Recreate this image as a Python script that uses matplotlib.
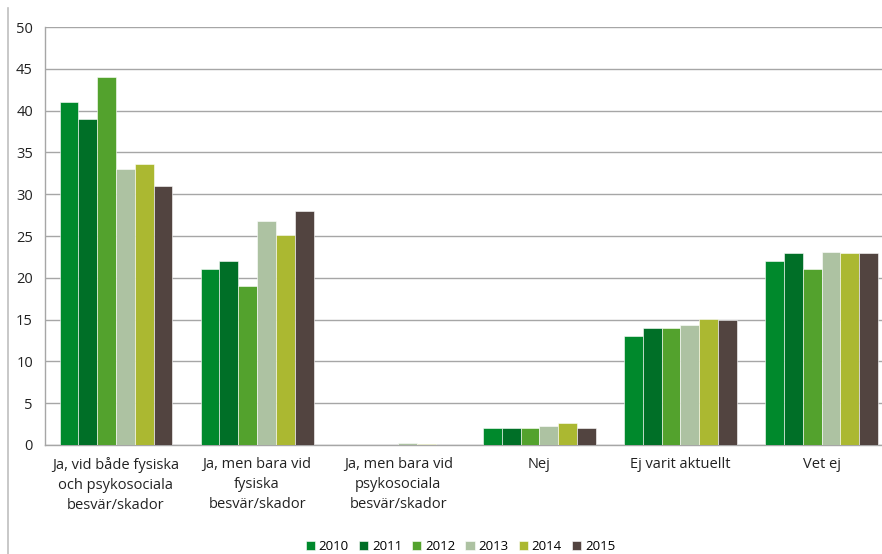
import numpy as np
import matplotlib.pyplot as plt
from matplotlib.lines import Line2D

# Kategorier och värden (procent)
categories = [
    "Ja, vid både fysiska\noch psykosociala\nbesvär/skador",
    "Ja, men bara vid\nfysiska\nbesvär/skador",
    "Ja, men bara vid\npsykosociala\nbesvär/skador",
    "Nej",
    "Ej varit aktuellt",
    "Vet ej",
]
years = ["2010", "2011", "2012", "2013", "2014", "2015"]
v2010 = [41, 21, 0, 2, 13, 22]
v2011 = [39, 22, 0, 2, 14, 23]
v2012 = [44, 19, 0, 2, 14, 21]
v2013 = [33, 26.8, 0.2, 2.2, 14.4, 23.1]
v2014 = [33.6, 25.1, 0.1, 2.6, 15.1, 23]
v2015 = [31, 28, 0, 2, 15, 23]
colors = ["#00892C", "#006F27", "#53A22D", "#ADC2A2", "#ABB831", "#524440"]

series = [v2010, v2011, v2012, v2013, v2014, v2015]

plt.rcParams['font.family'] = ['Open Sans', 'DejaVu Sans']

fig = plt.figure(figsize=(8.82, 5.54), dpi=100)
ax = fig.add_axes([0.0515, 0.197, 0.96, 0.754])

x = np.arange(len(categories))
w = 0.8 / len(years)
for i, (vals, c, yr) in enumerate(zip(series, colors, years)):
    ax.bar(x - 0.4 + w * (i + 0.5), vals, width=w, color=c, label=yr,
           edgecolor="white", linewidth=0.4, zorder=3)

ax.set_xlim(-0.5, len(categories) - 0.5)
ax.set_ylim(0, 50)
ax.set_yticks(range(0, 51, 5))
ax.yaxis.grid(True, color="#A6A6A6", linewidth=1.0, zorder=0)
ax.set_axisbelow(True)
ax.set_xticks(x)
ax.set_xticklabels(categories, fontsize=10.5, color="#222222", linespacing=1.45)
ax.tick_params(axis="both", length=0, labelsize=10.5, colors="#222222")
ax.tick_params(axis="y", pad=9)
ax.tick_params(axis="x", pad=9)
for s in ["top", "right"]:
    ax.spines[s].set_visible(False)
ax.spines["left"].set_color("#A6A6A6")
ax.spines["bottom"].set_color("#A6A6A6")
ax.spines["left"].set_linewidth(1.0)
ax.spines["bottom"].set_linewidth(1.0)

fig.legend(loc="lower center", bbox_to_anchor=(0.522, -0.02), ncol=6, frameon=False,
           fontsize=9.5, handlelength=0.7, handleheight=0.7, handletextpad=0.3,
           columnspacing=0.75)

# Ramens vänstra kant
fig.add_artist(Line2D([0.009, 0.009], [0.0, 0.985], color="#BFBFBF", linewidth=1.2,
                      transform=fig.transFigure))

fig.savefig("out.png", dpi=100)
